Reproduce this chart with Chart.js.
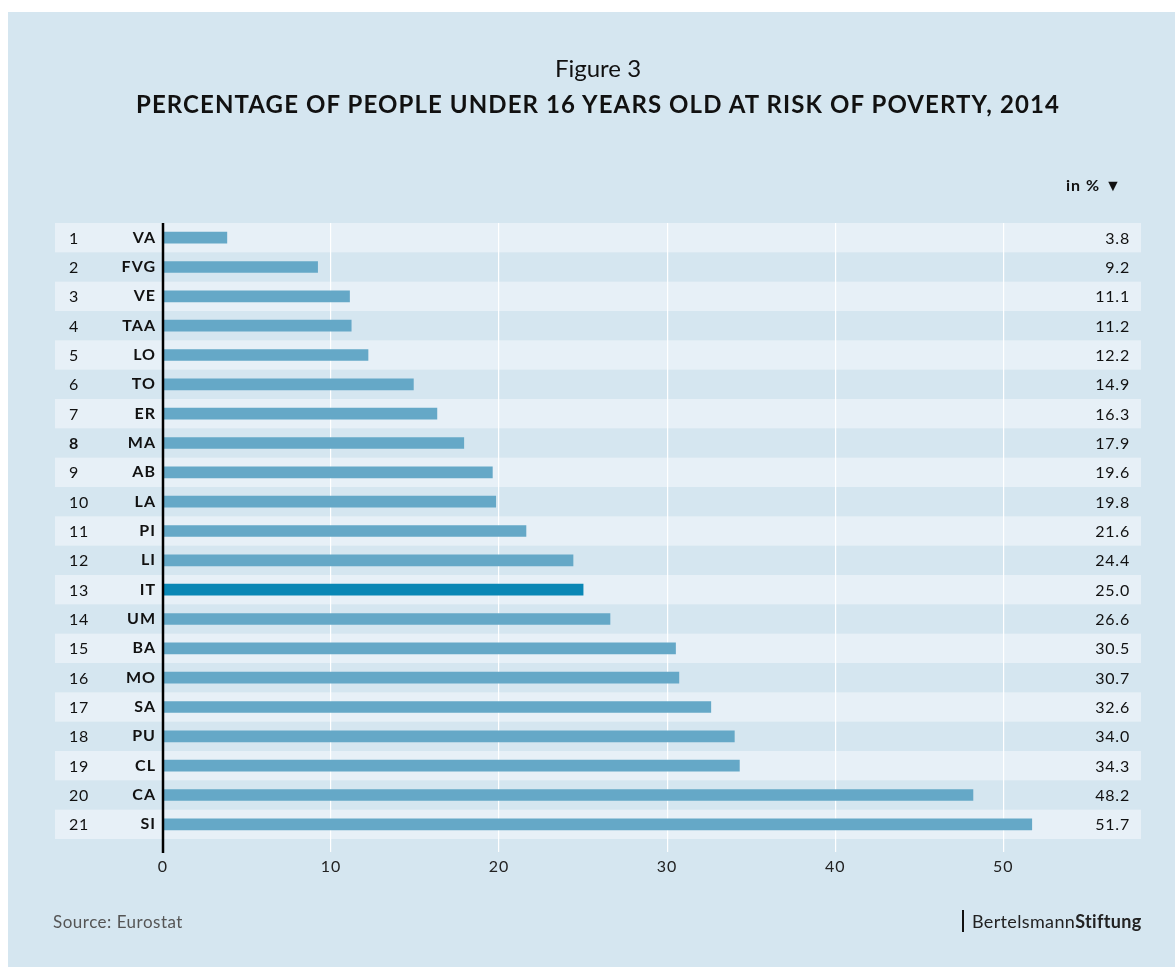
<!DOCTYPE html>
<html>
<head>
<meta charset="utf-8">
<script src="https://cdn.jsdelivr.net/npm/chart.js@4/dist/chart.umd.min.js"></script>
<style>
    body { margin: 0; background: #fff; font-family: Lato, sans-serif; color: #111; }
    #panel { position: absolute; left: 8px; top: 12px; width: 1167px; height: 955px; background: #d5e6f0; }
    #chart { position: absolute; left: 0; top: 0; }
    .txt { position: absolute; white-space: nowrap; line-height: 1; }
    #fig { left: 0; width: 1196px; top: 56px; text-align: center; font-size: 24px; }
    #title { left: 0; width: 1196px; top: 92px; text-align: center; font-size: 24px; font-weight: bold; letter-spacing: 1.1px; }
    #unit { left: 1066px; top: 177px; font-size: 16px; font-weight: bold; letter-spacing: 1px; }
    #source { left: 53px; top: 913px; font-size: 17px; color: #555; letter-spacing: 0.5px; }
    #logo { left: 962px; top: 910px; font-size: 18px; color: #222; border-left: 2px solid #111; padding-left: 8px; line-height: 22px; letter-spacing: 0.35px; }
</style>
</head>
<body>
<div id="panel"></div>
<canvas id="chart" width="1175" height="967"></canvas>
<div class="txt" id="fig">Figure 3</div>
<div class="txt" id="title">PERCENTAGE OF PEOPLE UNDER 16 YEARS OLD AT RISK OF POVERTY, 2014</div>
<div class="txt" id="unit">in % ▼</div>
<div class="txt" id="source">Source: Eurostat</div>
<div class="txt" id="logo">Bertelsmann<b>Stiftung</b></div>
<script>
const ranks = [1, 2, 3, 4, 5, 6, 7, 8, 9, 10, 11, 12, 13, 14, 15, 16, 17, 18, 19, 20, 21];
const regions = ['VA', 'FVG', 'VE', 'TAA', 'LO', 'TO', 'ER', 'MA', 'AB', 'LA', 'PI', 'LI', 'IT', 'UM', 'BA', 'MO', 'SA', 'PU', 'CL', 'CA', 'SI'];
const values = [3.8, 9.2, 11.1, 11.2, 12.2, 14.9, 16.3, 17.9, 19.6, 19.8, 21.6, 24.4, 25.0, 26.6, 30.5, 30.7, 32.6, 34.0, 34.3, 48.2, 51.7];
const xTicks = [0, 10, 20, 30, 40, 50];

const barColor = '#65a8c7';
const itColor = '#0a87b5';

// bandes, rangs, valeurs et ligne zéro
const tablePlugin = {
    id: 'table',
    beforeDraw(chart) {
        const { ctx, chartArea } = chart;
        const step = (chartArea.bottom - chartArea.top) / regions.length;
        ctx.save();
        regions.forEach((r, i) => {
            if (i % 2 === 0) {
                ctx.fillStyle = '#e7f0f7';
                ctx.fillRect(55, chartArea.top + i * step, 1141 - 55, step);
            }
        });
        ctx.restore();
        // espacement des lettres pour les axes
        ctx.letterSpacing = '1px';
    },
    afterDraw(chart) {
        const { ctx, chartArea, scales } = chart;
        ctx.save();
        ctx.letterSpacing = '0.8px';
        ctx.textBaseline = 'middle';
        ctx.fillStyle = '#111';
        regions.forEach((r, i) => {
            const y = scales.y.getPixelForValue(i);
            ctx.font = (ranks[i] === 8 ? 'bold ' : '') + '16px Lato';
            ctx.textAlign = 'left';
            ctx.fillText(String(ranks[i]), 69, y + 1);
            ctx.font = '16px Lato';
            ctx.textAlign = 'right';
            ctx.fillText(values[i].toFixed(1), 1130, y + 1);
        });
        const x0 = scales.x.getPixelForValue(0);
        ctx.strokeStyle = '#000';
        ctx.lineWidth = 2.5;
        ctx.beginPath();
        ctx.moveTo(x0, chartArea.top);
        ctx.lineTo(x0, chartArea.bottom + 14);
        ctx.stroke();
        ctx.restore();
    }
};

new Chart(document.getElementById('chart'), {
    type: 'bar',
    data: {
        labels: regions,
        datasets: [{
            data: values,
            backgroundColor: regions.map(r => r === 'IT' ? itColor : barColor),
            barThickness: 11,
            borderWidth: 0
        }]
    },
    options: {
        indexAxis: 'y',
        responsive: false,
        animation: false,
        layout: { padding: { top: 223, right: 34, bottom: 68, left: 0 } },
        plugins: { legend: { display: false }, tooltip: { enabled: false } },
        scales: {
            x: {
                min: 0,
                max: 58.2,
                afterBuildTicks(scale) {
                    scale.ticks = xTicks.map(v => ({ value: v }));
                },
                afterFit(scale) { scale.height = 60; },
                grid: { color: '#ffffff', lineWidth: 1.2, tickLength: 13 },
                border: { display: false },
                ticks: { color: '#222', font: { family: 'Lato', size: 16 }, padding: 5 }
            },
            y: {
                afterFit(scale) { scale.width = 163; },
                grid: { display: false, drawTicks: false },
                border: { display: false },
                ticks: { color: '#111', font: { family: 'Lato', size: 16, weight: 'bold' }, padding: 7 }
            }
        }
    },
    plugins: [tablePlugin]
});
</script>
</body>
</html>
